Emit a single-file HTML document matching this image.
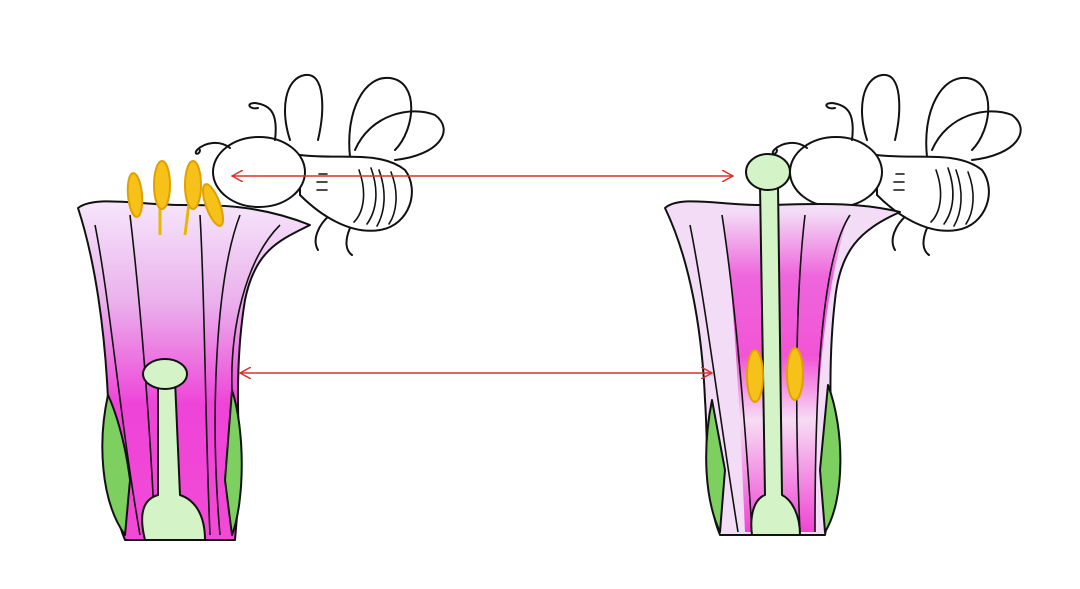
<!DOCTYPE html>
<html><head><meta charset="utf-8"><style>
html,body{margin:0;padding:0;background:#fff;width:1080px;height:589px;overflow:hidden}
</style></head><body>
<svg width="1080" height="589" viewBox="0 0 1080 589" xmlns="http://www.w3.org/2000/svg">
<defs>
<linearGradient id="pk" x1="0" y1="0" x2="0" y2="1">
<stop offset="0" stop-color="#f6e6fb"/>
<stop offset="0.3" stop-color="#eab0ec"/>
<stop offset="0.6" stop-color="#ee44d8"/>
<stop offset="1" stop-color="#f24ad6"/>
</linearGradient>
<linearGradient id="pk2" x1="0" y1="0" x2="0" y2="1">
<stop offset="0" stop-color="#f3dcf6"/>
<stop offset="0.2" stop-color="#ee66dc"/>
<stop offset="0.45" stop-color="#f254d6"/>
<stop offset="0.65" stop-color="#f6dcf4"/>
<stop offset="1" stop-color="#f044d4"/>
</linearGradient>
<marker id="ah" markerWidth="12" markerHeight="12" refX="11" refY="6" orient="auto-start-reverse" markerUnits="userSpaceOnUse">
<path d="M0,0 L11,6 L0,12" fill="none" stroke="#d8322e" stroke-width="1.5"/>
</marker>
<g id="bee" fill="#fff" stroke="#111" stroke-width="2" stroke-linecap="round">
<path d="M31,-32 C21,-62 26,-94 46,-97 C66,-100 66,-62 59,-32" fill="none"/>
<path d="M91,-15 C86,-62 106,-97 131,-94 C161,-90 156,-42 136,-22" fill="none"/>
<path d="M96,-22 C111,-57 151,-67 176,-57 C196,-42 181,-17 136,-12" fill="none"/>
<path d="M71,43 C59,53 53,68 59,78 M91,56 C86,68 86,78 93,83" fill="none"/>
<path d="M41,-17 C81,-12 121,-22 146,-2 C161,18 151,53 121,58 C91,63 61,43 41,23 Z"/>
<path d="M60,2 L68,2 M58,10 L68,10 M58,18 L68,18 M100,-2 C108,20 105,40 95,50 M112,-4 C120,18 118,38 108,52 M120,-2 C128,20 126,40 118,54 M132,0 C140,20 138,40 130,52" fill="none" stroke-width="1.6"/>
<ellipse cx="0" cy="0" rx="46" ry="35"/>
<path d="M16,-32 C19,-57 13,-67 -4,-69 C-14,-69 -9,-62 -1,-64" fill="none"/>
<path d="M-29,-24 C-39,-32 -54,-30 -62,-22 C-66,-17 -59,-17 -59,-22" fill="none"/>
</g>
</defs>

<!-- LEFT FLOWER -->
<g stroke="#111" stroke-width="2" stroke-linejoin="round">
<path d="M78,208 C95,195 140,205 180,205 C220,205 260,205 310,225 C280,240 255,250 245,300 C235,360 238,420 240,480 L235,540 L125,540 C108,500 110,440 108,400 C105,330 95,260 78,208 Z" fill="url(#pk)"/>
<path d="M108,395 C98,440 100,500 125,535 L130,480 C125,440 115,410 108,395 Z" fill="#7dcf5f"/>
<path d="M232,390 C245,430 245,500 232,535 L225,480 Z" fill="#7dcf5f"/>
<path d="M95,225 C110,300 120,420 140,535" fill="none" stroke-width="1.6"/>
<path d="M130,215 C140,300 150,420 155,535" fill="none" stroke-width="1.6"/>
<path d="M200,215 C205,300 205,420 210,535" fill="none" stroke-width="1.6"/>
<path d="M240,215 C215,280 210,420 220,535" fill="none" stroke-width="1.6"/>
<path d="M280,225 C245,260 230,330 232,390" fill="none" stroke-width="1.6"/>
<path d="M158,380 L158,495 C140,500 140,520 145,540 L205,540 C205,515 195,500 180,495 L175,380 Z" fill="#d4f4c8"/>
<ellipse cx="165" cy="374" rx="22" ry="15" fill="#d4f4c8"/>
</g>
<use href="#bee" transform="translate(259,172)"/>
<g stroke="#111" stroke-width="2">
<line x1="160" y1="195" x2="160" y2="235" stroke="#e8b800" stroke-width="3"/>
<line x1="190" y1="195" x2="185" y2="235" stroke="#e8b800" stroke-width="3"/>
<ellipse cx="135" cy="195" rx="7" ry="22" fill="#f6c21a" stroke="#e0a000" transform="rotate(-5 135 195)"/>
<ellipse cx="162" cy="185" rx="8" ry="24" fill="#f6c21a" stroke="#e0a000"/>
<ellipse cx="193" cy="185" rx="8" ry="24" fill="#f6c21a" stroke="#e0a000"/>
<ellipse cx="213" cy="205" rx="7" ry="22" fill="#f6c21a" stroke="#e0a000" transform="rotate(-20 213 205)"/>
</g>

<!-- RIGHT FLOWER -->
<use href="#bee" transform="translate(836,172)"/>
<g stroke="#111" stroke-width="2" stroke-linejoin="round">
<path d="M665,208 C680,195 720,205 760,205 C800,205 850,200 900,212 C860,230 840,250 835,300 C828,360 830,430 835,480 L825,535 L720,535 C705,500 708,440 705,400 C702,330 690,260 665,208 Z" fill="#f3dcf6"/>
<path d="M722,212 C735,300 740,420 745,532 L815,532 C815,420 820,300 850,212 Z" fill="url(#pk2)" stroke="none"/>
<path d="M712,400 C702,450 705,500 720,532 L725,470 Z" fill="#7dcf5f"/>
<path d="M828,385 C845,430 845,500 825,532 L820,470 Z" fill="#7dcf5f"/>
<path d="M690,225 C705,300 720,420 738,532" fill="none" stroke-width="1.6"/>
<path d="M722,215 C735,300 745,420 752,532" fill="none" stroke-width="1.6"/>
<path d="M805,215 C795,300 795,420 800,532" fill="none" stroke-width="1.6"/>
<path d="M850,215 C820,260 815,400 815,532" fill="none" stroke-width="1.6"/>
<path d="M760,185 L765,495 C752,500 750,520 752,535 L800,535 C800,515 792,500 782,495 L778,185 Z" fill="#d4f4c8"/>
<ellipse cx="768" cy="172" rx="22" ry="18" fill="#d4f4c8"/>
<ellipse cx="755" cy="376" rx="8" ry="26" fill="#f6c21a" stroke="#e0a000"/>
<ellipse cx="795" cy="374" rx="8" ry="26" fill="#f6c21a" stroke="#e0a000"/>
</g>

<!-- ARROWS -->
<line x1="232" y1="176" x2="733" y2="176" stroke="#d8322e" stroke-width="1.5" marker-start="url(#ah)" marker-end="url(#ah)"/>
<line x1="240" y1="373" x2="712" y2="373" stroke="#d8322e" stroke-width="1.5" marker-start="url(#ah)" marker-end="url(#ah)"/>
</svg>
</body></html>
